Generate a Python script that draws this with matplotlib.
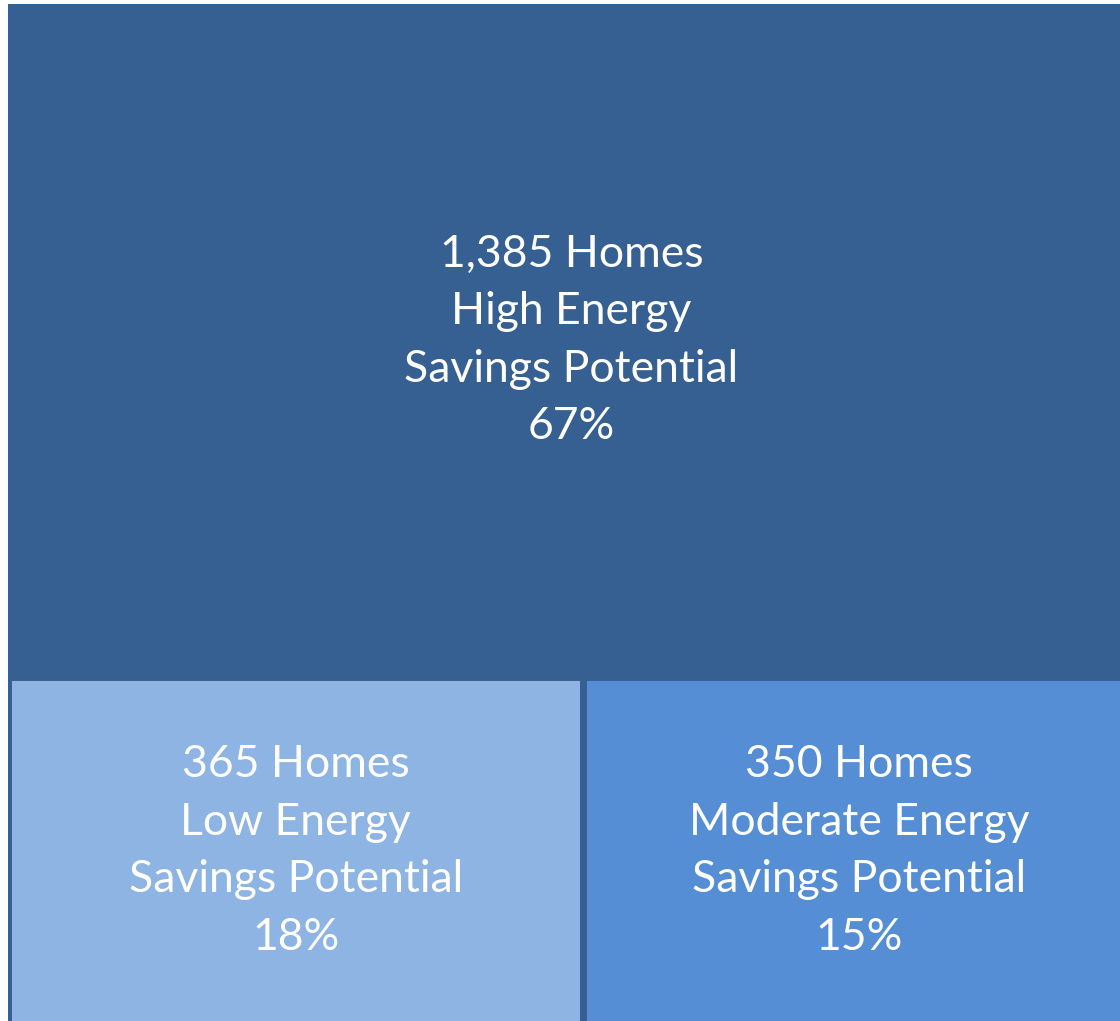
import matplotlib.pyplot as plt
from matplotlib.patches import Rectangle

labels = ['High Energy\nSavings Potential', 'Low Energy\nSavings Potential',
          'Moderate Energy\nSavings Potential']
homes = [1385, 365, 350]
pct = [67, 18, 15]
colors = ['#376092', '#8EB4E3', '#558ED5']

plt.rcParams['font.family'] = ['Lato', 'DejaVu Sans']

fig = plt.figure(figsize=(11.2, 10.21), dpi=100)
# axes a bit wider than the figure, the right edge is cropped like the reference
ax = fig.add_axes([8 / 1120, -4 / 1021, 1127 / 1120, 1021 / 1021])
ax.set_xlim(0, 1)
ax.set_ylim(0, 1)
ax.axis('off')
ax.add_patch(Rectangle((0, 0), 1, 1, color=colors[0], zorder=0))

total = sum(homes)
h_bottom = (homes[1] + homes[2]) / total
w_low = homes[1] / (homes[1] + homes[2])

rects = [
    (0, h_bottom, 1, 1 - h_bottom),
    (0, 0, w_low, h_bottom),
    (w_low, 0, 1 - w_low, h_bottom),
]

for (x, y, w, h), lab, n, p, c in zip(rects, labels, homes, pct, colors):
    ax.add_patch(Rectangle((x, y), w, h, facecolor=c, edgecolor=colors[0],
                           linewidth=5, zorder=1))
    ax.text(x + w / 2, y + h / 2, f'{n:,} Homes\n{lab}\n{p}%',
            ha='center', va='center', color='white', fontsize=32,
            linespacing=1.5, zorder=2)

fig.savefig('out.png', dpi=100)
